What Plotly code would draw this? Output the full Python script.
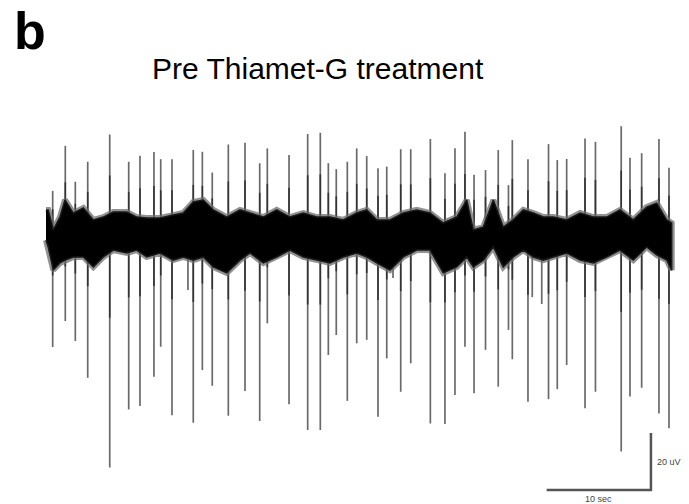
import plotly.graph_objects as go

# Extracellular recording, 60 s sweep. Time in seconds, amplitude in uV.

# Large units: spike time, positive peak, negative trough
spike_t = [0.64, 1.85, 2.81, 4.00, 6.11, 7.93, 9.01, 10.35, 11.00, 12.08,
           14.12, 14.99, 15.94, 17.48, 19.08, 20.49, 21.22, 23.30, 25.09, 26.30,
           27.07, 27.83, 28.89, 29.79, 30.75, 31.83, 32.67, 34.01, 34.97, 36.85,
           38.25, 39.21, 40.17, 41.04, 42.14, 43.36, 44.34, 44.71, 46.21, 48.18,
           49.02, 49.92, 51.68, 52.68, 55.15, 55.99, 57.11, 58.77, 59.73]
spike_peak = [16.2, 32.0, 19.4, 26.4, 36.0, 26.4, 28.5, 29.8, 27.3, 27.3,
              30.5, 29.9, 22.6, 32.5, 33.1, 25.9, 31.1, 28.8, 36.1, 36.6,
              25.9, 23.8, 26.4, 31.1, 28.4, 24.1, 24.7, 30.8, 30.8, 34.4,
              22.4, 31.1, 36.9, 21.8, 23.5, 30.5, 18.2, 34.0, 27.3, 32.6,
              27.0, 27.4, 34.6, 33.4, 38.9, 27.8, 29.4, 34.4, 24.3]
spike_trough = [-38.6, -29.5, -36.5, -49.4, -80.9, -60.5, -59.3, -49.0, -38.5, -62.5,
                -65.2, -46.7, -52.2, -62.7, -54.0, -64.6, -30.3, -58.7, -67.7, -67.7,
                -41.4, -34.4, -57.5, -37.3, -36.1, -63.1, -42.6, -54.3, -44.3, -65.4,
                -65.6, -55.4, -38.5, -54.8, -39.6, -52.5, -32.6, -42.9, -57.8, -56.9,
                -53.4, -44.9, -60.1, -54.3, -75.3, -56.0, -52.9, -61.9, -67.1]

# Small negative deflections
minor_t = [13.61, 33.27, 46.62, 47.53]
minor_trough = [-18.6, -14.4, -21.1, -23.5]

# Background activity envelope (upper / lower edge of the noise band)
band_t = [0.00, 0.22, 0.70, 1.34, 1.82, 2.62, 3.58, 4.54, 5.50, 6.45,
          7.74, 8.70, 9.66, 10.93, 12.20, 13.16, 14.12, 15.08, 16.04, 17.33,
          18.60, 19.56, 20.84, 22.12, 23.39, 24.67, 25.95, 27.23, 28.50, 29.79,
          30.75, 31.71, 32.98, 34.26, 35.54, 36.82, 38.09, 39.38, 40.34, 40.97,
          41.93, 42.89, 43.84, 44.80, 45.76, 46.72, 47.68, 48.64, 49.92, 51.21,
          52.47, 53.76, 55.03, 56.31, 57.59, 58.55, 59.51, 59.99]
band_hi = [9.5, 9.5, 2.5, 7.0, 13.0, 8.4, 10.2, 6.0, 7.0, 8.8,
           8.8, 7.0, 6.7, 6.7, 7.7, 8.4, 12.3, 13.0, 9.5, 7.0,
           9.5, 8.4, 7.0, 9.5, 7.0, 8.4, 7.0, 7.0, 6.0, 8.4,
           9.5, 6.0, 6.0, 8.4, 9.5, 8.4, 4.9, 7.0, 13.0, 2.5,
           3.5, 13.0, 3.5, 6.0, 9.5, 8.4, 7.0, 7.0, 6.0, 8.4,
           7.0, 7.0, 9.5, 6.0, 10.5, 11.9, 6.0, 4.9]
band_lo = [-1.1, -3.5, -11.6, -9.1, -8.1, -7.0, -7.0, -10.5, -7.0, -4.6,
           -5.6, -4.6, -7.0, -5.6, -8.1, -7.0, -8.1, -7.0, -10.5, -12.6,
           -8.1, -5.6, -9.1, -7.0, -4.6, -7.0, -8.1, -9.1, -7.0, -5.6,
           -7.0, -9.1, -11.6, -7.0, -4.6, -4.6, -12.6, -10.5, -7.0, -10.5,
           -8.1, -3.5, -10.5, -7.0, -4.6, -7.0, -8.1, -7.0, -5.6, -8.1,
           -9.1, -7.0, -4.6, -8.1, -3.5, -6.3, -8.1, -11.6]

# Scale bar
bar_time = 10      # sec
bar_amp = 20       # uV
bar_t0 = 48.0
bar_y0 = -88.8

# Pixel geometry of the panel (px per unit and position of the origin)
W, H = 689, 504
px_per_s, px_per_uv = 10.43, 2.85
x0_px, y0_px = 46, 237

fig = go.Figure()

# spikes as vertical deflections
sx, sy = [], []
for t, p, q in zip(spike_t, spike_peak, spike_trough):
    sx += [t, t, None]
    sy += [q, p, None]
for t, q in zip(minor_t, minor_trough):
    sx += [t, t, None]
    sy += [0, q, None]
fig.add_trace(go.Scatter(x=sx, y=sy, mode="lines",
                         line=dict(color="#6a6a6a", width=1.7),
                         hoverinfo="skip", showlegend=False))
# darker core of each spike close to the baseline
cx, cy = [], []
for t, p, q in zip(spike_t, spike_peak, spike_trough):
    cx += [t, t, None]
    cy += [q * 0.35, p * 0.6, None]
fig.add_trace(go.Scatter(x=cx, y=cy, mode="lines",
                         line=dict(color="#333333", width=1.6),
                         hoverinfo="skip", showlegend=False))

# noise band: grey halo then black core
poly_x = band_t + band_t[::-1]
poly_y = band_hi + band_lo[::-1]
fig.add_trace(go.Scatter(x=poly_x, y=poly_y, mode="lines",
                         fill="toself", fillcolor="#111111",
                         line=dict(color="rgba(110,110,110,0.75)", width=6),
                         hoverinfo="skip", showlegend=False))
fig.add_trace(go.Scatter(x=poly_x, y=poly_y, mode="lines",
                         fill="toself", fillcolor="#000000",
                         line=dict(color="#1a1a1a", width=1.5),
                         hoverinfo="skip", showlegend=False))

# scale bar
fig.add_trace(go.Scatter(x=[bar_t0, bar_t0 + bar_time, bar_t0 + bar_time],
                         y=[bar_y0, bar_y0, bar_y0 + bar_amp], mode="lines",
                         line=dict(color="#555555", width=2.5),
                         hoverinfo="skip", showlegend=False))

fig.add_annotation(x=bar_t0 + bar_time, y=bar_y0 + bar_amp / 2, xref="x", yref="y",
                   text="20 uV", showarrow=False, xanchor="left", yanchor="middle",
                   xshift=4, font=dict(family="Liberation Sans", size=9, color="#444"))
fig.add_annotation(x=bar_t0 + bar_time / 2, y=bar_y0, xref="x", yref="y",
                   text="10 sec", showarrow=False, xanchor="center", yanchor="top",
                   yshift=-2, font=dict(family="Liberation Sans", size=9, color="#444"))

fig.add_annotation(x=317.5 / W, y=1 - 69 / H, xref="paper", yref="paper",
                   text="Pre Thiamet-G treatment", showarrow=False,
                   xanchor="center", yanchor="middle",
                   font=dict(family="Liberation Sans", size=30, color="#000"))
fig.add_annotation(x=12 / W, y=1 - 31 / H, xref="paper", yref="paper",
                   text="<b>b</b>", showarrow=False,
                   xanchor="left", yanchor="middle",
                   font=dict(family="Liberation Sans", size=52, color="#000"))

fig.update_xaxes(range=[-x0_px / px_per_s, (W - x0_px) / px_per_s], visible=False)
fig.update_yaxes(range=[(y0_px - H) / px_per_uv, y0_px / px_per_uv], visible=False)
fig.update_layout(width=W, height=H, autosize=False,
                  margin=dict(l=0, r=0, t=0, b=0),
                  paper_bgcolor="white", plot_bgcolor="white")

fig.write_html("out.html", config={"displayModeBar": False})
